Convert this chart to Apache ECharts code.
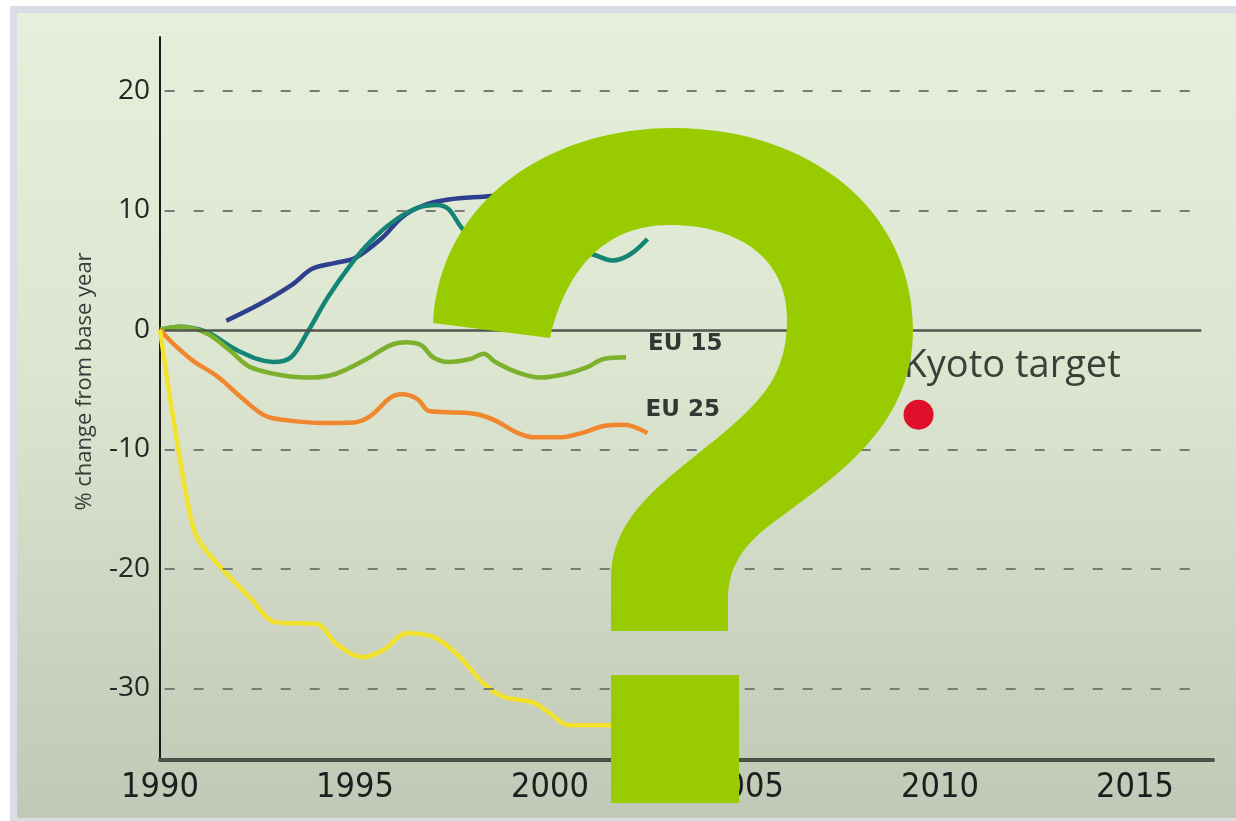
<!DOCTYPE html>
<html>
<head>
<meta charset="utf-8">
<script src="https://cdn.jsdelivr.net/npm/echarts@6/dist/echarts.min.js"></script>
<style>
  html, body { margin: 0; padding: 0; background: #ffffff; }
  #wrap { position: relative; width: 1236px; height: 821px; overflow: hidden; }
  #frame { position: absolute; left: 10px; top: 6px; right: 0; bottom: 0; background: #d9dde6; }
  #panel { position: absolute; left: 17px; top: 13px; right: 0; bottom: 3px;
           background: linear-gradient(#e6efdb 0%, #dce5d0 45%, #c0c8b6 100%); }
  #chart { position: absolute; left: 0; top: 0; width: 1236px; height: 821px; }
</style>
</head>
<body>
<div id="wrap">
  <div id="frame"></div>
  <div id="panel"></div>
  <div id="chart"></div>
</div>
<script>
// values, [year, % change from base year]
const countryA = [[1991.7, 0.75], [1992.56, 2.15], [1993.4, 3.8], [1993.9, 5.1], [1994.5, 5.6],
  [1995.0, 6.0], [1995.7, 7.7], [1996.2, 9.4], [1996.75, 10.4], [1997.4, 10.9],
  [1998.5, 11.2], [1999.5, 11.6], [2000.5, 11.9]];
const countryB = [[1990, 0], [1990.5, 0.25], [1991.2, -0.2], [1992, -1.75], [1992.9, -2.7],
  [1993.36, -2.3], [1993.8, -0.1], [1994.3, 2.7], [1994.9, 5.5], [1995.4, 7.4], [1996.0, 9.1],
  [1996.6, 10.2], [1997.1, 10.45], [1997.4, 10.1], [1997.8, 8.3], [1998.5, 7.0], [1999.5, 6.4],
  [2000.5, 6.6], [2001.1, 6.3], [2001.6, 5.8], [2002.05, 6.3], [2002.5, 7.6]];
const eu15 = [[1990, 0], [1990.5, 0.25], [1991.2, -0.3], [1991.8, -1.75], [1992.3, -3.1],
  [1993.2, -3.85], [1993.85, -4.0], [1994.5, -3.7], [1995.3, -2.45], [1995.9, -1.3],
  [1996.3, -1.05], [1996.7, -1.3], [1997.0, -2.3], [1997.4, -2.7], [1997.95, -2.45],
  [1998.3, -2.0], [1998.6, -2.7], [1999.15, -3.55], [1999.74, -4.0], [2000.4, -3.7],
  [2000.94, -3.15], [2001.37, -2.45], [2001.95, -2.3]];
const eu25 = [[1990, 0], [1990.35, -1.2], [1990.85, -2.6], [1991.45, -3.85], [1992.1, -5.7],
  [1992.7, -7.2], [1993.33, -7.6], [1994.2, -7.8], [1994.96, -7.75], [1995.4, -7.2],
  [1995.9, -5.7], [1996.2, -5.4], [1996.6, -5.8], [1996.9, -6.8], [1997.4, -6.9],
  [1998.1, -7.05], [1998.6, -7.6], [1999.15, -8.6], [1999.6, -9.0], [2000.26, -9.0],
  [2000.85, -8.6], [2001.45, -8.0], [2001.9, -7.95], [2002.5, -8.65]];
const countryC = [[1990, 0], [1990.2, -4.5], [1990.47, -10], [1990.7, -14.3], [1990.94, -17.3],
  [1991.45, -19.5], [1992.3, -22.4], [1993.0, -24.5], [1994.0, -24.6], [1994.53, -26.3],
  [1995.2, -27.4], [1995.73, -26.8], [1996.33, -25.4], [1997.0, -25.7], [1997.6, -27.1],
  [1998.3, -29.6], [1998.8, -30.7], [1999.57, -31.2], [2000.0, -32.1], [2000.5, -33.1],
  [2001.54, -33.1], [2002.0, -33.1]];
const kyoto = [[2009.45, -7.1]];
const gridDashed = [20, 10, -10, -20, -30];
const gridZero = [0];
const gridFrom = 1990.12, gridTo = 2016.7;

// the big question mark laid over the chart
const qmarkPath =
  "M433 323 C440 200 550 128 673 128 C810 128 913 210 913 330 " +
  "C913 430 830 480 770 525 C740 548 728 570 728 600 L728 631 L611 631 L611 580 " +
  "C611 530 640 500 690 460 C760 405 787 380 787 318 " +
  "C787 260 740 225 670 225 C600 225 565 275 550 338 Z";

const chart = echarts.init(document.getElementById("chart"));

function line(name, data, color, extra) {
  return Object.assign({
    name: name,
    type: "line",
    data: data,
    smooth: 0.35,
    symbol: "none",
    z: 3,
    lineStyle: { color: color, width: 4.5 },
    animation: false,
  }, extra || {});
}

function hLine(v, style) {
  return [{ coord: [gridFrom, v], lineStyle: style }, { coord: [gridTo, v] }];
}

const eulabel = {
  fontFamily: "DejaVu Sans",
  fontSize: 23,
  fontWeight: "bold",
  color: "#343634",
};

chart.setOption({
  backgroundColor: "transparent",
  animation: false,
  grid: { left: 160, right: 23, top: 37, bottom: 61 },
  xAxis: {
    type: "value",
    min: 1990,
    max: 2017,
    interval: 5,
    axisLine: { show: true, onZero: false, lineStyle: { color: "#4b5049", width: 4 } },
    axisTick: { show: false },
    splitLine: { show: false },
    axisLabel: {
      margin: 11,
      fontFamily: "Liberation Sans Narrow, DejaVu Sans Condensed, sans-serif",
      fontSize: 34,
      color: "#1e1e1e",
      formatter: (v) => (v % 5 === 0 ? String(v) : ""),
    },
  },
  yAxis: {
    type: "value",
    min: -36,
    max: 24.5,
    interval: 2,
    name: "% change from base year",
    nameLocation: "middle",
    nameRotate: 90,
    nameGap: 64,
    nameTextStyle: { fontFamily: "Open Sans", fontSize: 22, color: "#3a3a3a", padding: [0, 0, 0, 34] },
    axisLine: { show: true, onZero: false, lineStyle: { color: "#1a1a1a", width: 2 } },
    axisTick: { show: false },
    splitLine: { show: false },
    axisLabel: {
      margin: 10,
      fontFamily: "Open Sans",
      fontSize: 28,
      color: "#262626",
      formatter: (v) => (v % 10 === 0 ? String(v) : ""),
    },
  },
  series: [
    {
      type: "line",
      data: [],
      silent: true,
      z: 1,
      markLine: {
        silent: true,
        symbol: ["none", "none"],
        label: { show: false },
        animation: false,
        data: gridDashed.map((v) => hLine(v, { color: "#777a75", width: 2, type: [10, 19] }))
          .concat(gridZero.map((v) => hLine(v, { color: "#50554e", width: 2.5, type: "solid" }))),
      },
    },
    line("A", countryA, "#2e3f8e"),
    line("B", countryB, "#138475"),
    line("EU 15", eu15, "#7db02c", {
      endLabel: Object.assign({ show: true, formatter: "EU 15", offset: [14, -13] }, eulabel),
    }),
    line("EU 25", eu25, "#f0872e", {
      endLabel: Object.assign({ show: true, formatter: "EU 25", offset: [-10, -23] }, eulabel),
    }),
    line("C", countryC, "#f3e22c"),
    {
      name: "Kyoto target",
      type: "scatter",
      data: kyoto,
      symbolSize: 30,
      z: 4,
      itemStyle: { color: "#e0102a", opacity: 1 },
      label: {
        show: true,
        formatter: "Kyoto target",
        position: [0, -52],
        align: "left",
        verticalAlign: "top",
        fontFamily: "Open Sans",
        fontSize: 38,
        color: "#3a3f39",
      },
    },
    {
      type: "custom",
      coordinateSystem: "none",
      data: [0],
      z: 100,
      silent: true,
      animation: false,
      renderItem: function () {
        return {
          type: "group",
          children: [
            { type: "path", shape: { pathData: qmarkPath }, style: { fill: "#99cc00" } },
            { type: "rect", shape: { x: 611, y: 675, width: 128, height: 128 }, style: { fill: "#99cc00" } },
          ],
        };
      },
    },
  ],
});
</script>
</body>
</html>
